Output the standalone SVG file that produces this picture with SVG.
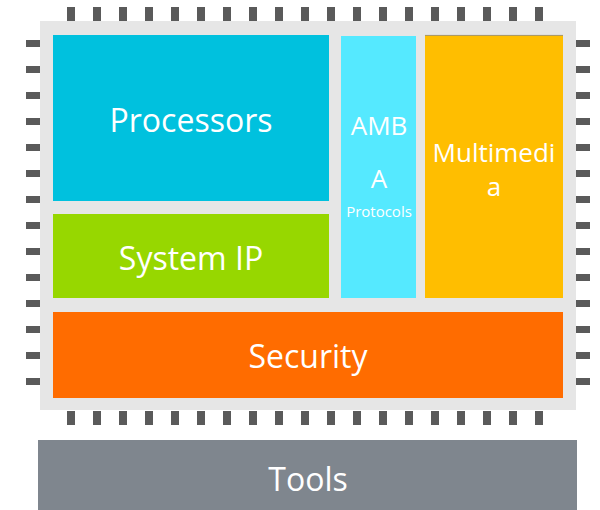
<svg xmlns="http://www.w3.org/2000/svg" width="600" height="510" viewBox="0 0 600 510">
<defs>
<style>
.pin{fill:#5a5a5a}
.t{font-family:"Open Sans","Noto Sans","Liberation Sans",sans-serif;fill:#ffffff;text-anchor:middle}
</style>
<g id="pv"><rect class="pin" x="0" y="0" width="8" height="14"/></g>
<g id="ph"><rect class="pin" x="0" y="0" width="14" height="7"/></g>
</defs>
<rect width="600" height="510" fill="#ffffff"/>
<g id="chip">
<rect x="40" y="21" width="536" height="389" fill="#e6e6e6"/>
<g id="pins-top">
<use href="#pv" x="67" y="7"/><use href="#pv" x="93" y="7"/><use href="#pv" x="119" y="7"/><use href="#pv" x="145" y="7"/><use href="#pv" x="171" y="7"/><use href="#pv" x="197" y="7"/><use href="#pv" x="223" y="7"/><use href="#pv" x="249" y="7"/><use href="#pv" x="275" y="7"/><use href="#pv" x="301" y="7"/><use href="#pv" x="327" y="7"/><use href="#pv" x="353" y="7"/><use href="#pv" x="379" y="7"/><use href="#pv" x="405" y="7"/><use href="#pv" x="431" y="7"/><use href="#pv" x="457" y="7"/><use href="#pv" x="483" y="7"/><use href="#pv" x="509" y="7"/><use href="#pv" x="535" y="7"/>
</g>
<g id="pins-bottom">
<use href="#pv" x="67" y="411"/><use href="#pv" x="93" y="411"/><use href="#pv" x="119" y="411"/><use href="#pv" x="145" y="411"/><use href="#pv" x="171" y="411"/><use href="#pv" x="197" y="411"/><use href="#pv" x="223" y="411"/><use href="#pv" x="249" y="411"/><use href="#pv" x="275" y="411"/><use href="#pv" x="301" y="411"/><use href="#pv" x="327" y="411"/><use href="#pv" x="353" y="411"/><use href="#pv" x="379" y="411"/><use href="#pv" x="405" y="411"/><use href="#pv" x="431" y="411"/><use href="#pv" x="457" y="411"/><use href="#pv" x="483" y="411"/><use href="#pv" x="509" y="411"/><use href="#pv" x="535" y="411"/>
</g>
<g id="pins-left">
<use href="#ph" x="26" y="40"/><use href="#ph" x="26" y="66"/><use href="#ph" x="26" y="92"/><use href="#ph" x="26" y="118"/><use href="#ph" x="26" y="144"/><use href="#ph" x="26" y="170"/><use href="#ph" x="26" y="196"/><use href="#ph" x="26" y="222"/><use href="#ph" x="26" y="248"/><use href="#ph" x="26" y="274"/><use href="#ph" x="26" y="300"/><use href="#ph" x="26" y="326"/><use href="#ph" x="26" y="352"/><use href="#ph" x="26" y="378"/>
</g>
<g id="pins-right">
<use href="#ph" x="576" y="40"/><use href="#ph" x="576" y="66"/><use href="#ph" x="576" y="92"/><use href="#ph" x="576" y="118"/><use href="#ph" x="576" y="144"/><use href="#ph" x="576" y="170"/><use href="#ph" x="576" y="196"/><use href="#ph" x="576" y="222"/><use href="#ph" x="576" y="248"/><use href="#ph" x="576" y="274"/><use href="#ph" x="576" y="300"/><use href="#ph" x="576" y="326"/><use href="#ph" x="576" y="352"/><use href="#ph" x="576" y="378"/>
</g>
</g>
<g id="processors">
<rect x="53" y="35" width="276" height="166" fill="#00c1de"/>
<text class="t" x="191" y="132" font-size="32">Processors</text>
</g>
<g id="system-ip">
<rect x="53" y="214" width="276" height="84" fill="#97d700"/>
<text class="t" x="191" y="270" font-size="32">System IP</text>
</g>
<g id="amba">
<rect x="341" y="36" width="75" height="262" fill="#55e9ff"/>
<text class="t" x="379" y="135" font-size="26">AMB</text>
<text class="t" x="379" y="188" font-size="26">A</text>
<text class="t" x="379" y="217" font-size="15">Protocols</text>
</g>
<g id="multimedia">
<rect x="425" y="35" width="138" height="263" fill="#ffbe00"/>
<line x1="425" y1="35.4" x2="563" y2="35.4" stroke="#8c8c8c" stroke-width="0.8"/>
<text class="t" x="494" y="162" font-size="26">Multimedi</text>
<text class="t" x="494" y="196" font-size="26">a</text>
</g>
<g id="security">
<rect x="53" y="312" width="510" height="86" fill="#ff6c00"/>
<text class="t" x="308" y="368" font-size="32">Security</text>
</g>
<g id="tools">
<rect x="38" y="440" width="539" height="70" fill="#7f868e"/>
<text class="t" x="308" y="491" font-size="32">Tools</text>
</g>
<g id="connectors"></g>
</svg>
